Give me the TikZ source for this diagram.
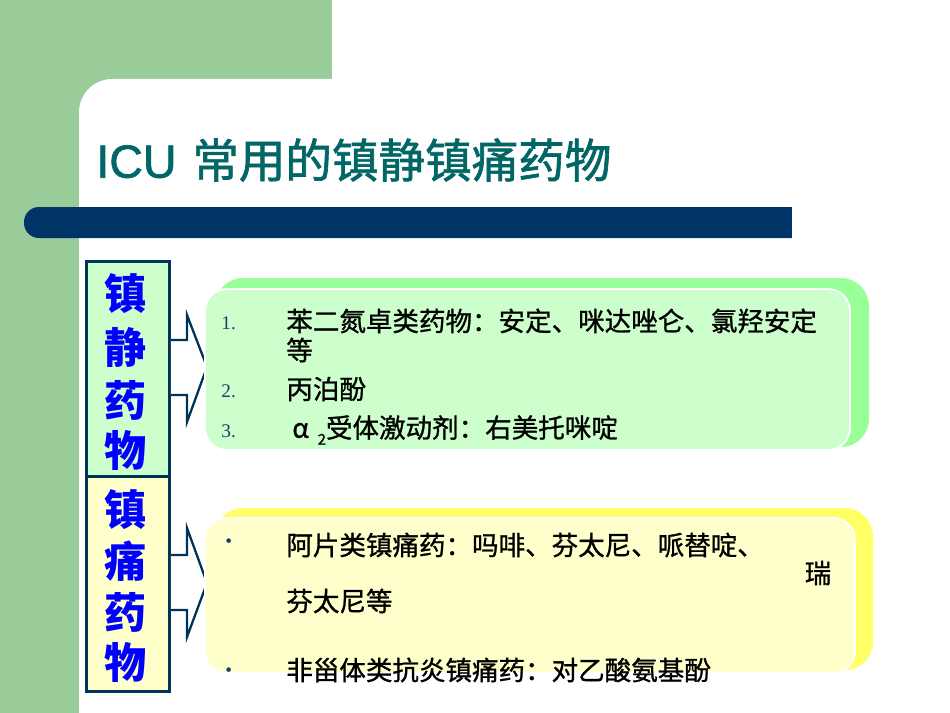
\documentclass[tikz,border=0pt]{standalone}
\usepackage{fontspec}
\newfontfamily\cjk[FakeBold=1.0]{Noto Sans CJK SC}
\newfontfamily\cjkside{Noto Sans CJK SC}
\newfontfamily\cjktitle[FakeBold=1.4]{Noto Sans CJK SC}
\newfontfamily\latinsans[FakeBold=1.4]{Liberation Sans}
\newfontfamily\numfont{Liberation Serif}

\definecolor{bggreen}{RGB}{153,204,153}
\definecolor{barnavy}{RGB}{0,51,102}
\definecolor{titleteal}{RGB}{0,102,102}
\definecolor{panelgreen}{RGB}{204,255,204}
\definecolor{shadegreen}{RGB}{153,255,153}
\definecolor{panelyellow}{RGB}{255,255,204}
\definecolor{shadeyellow}{RGB}{255,255,102}
\definecolor{edgenavy}{RGB}{0,51,85}
\definecolor{numblue}{RGB}{31,61,107}

\tikzset{
  sidechar/.style={text=blue, font=\fontsize{24}{24}\selectfont\cjkside\bfseries, inner sep=0pt},
  itemtext/.style={anchor=west, inner sep=0pt, font=\fontsize{15.1}{15.1}\selectfont\cjk},
  itemnum/.style={anchor=west, inner sep=0pt, text=numblue, font=\fontsize{11}{11}\selectfont\numfont},
  sidebox/.style={draw=edgenavy, line width=1.6pt, minimum width=1.66cm, minimum height=4.3cm, anchor=north west},
  blockarrow/.style={draw=edgenavy, fill=white, line width=1.3pt, line join=miter},
}

\begin{document}
\begin{tikzpicture}[x=0.02cm,y=-0.02cm]
        \useasboundingbox (0,0) rectangle (950,713);

        % background
        \fill[bggreen] (0,0) rectangle (332,200);
        \fill[bggreen] (0,0) rectangle (79,713);
        \fill[white,rounded corners=19pt] (79,800) -- (79,79) -- (1100,79) -- (1100,800) -- cycle;

        \node[anchor=west, inner sep=0pt, text=titleteal] (title) at (96,160)
            { \fontsize{26.5}{26.5}\selectfont\latinsans ICU\hspace{9pt}\cjktitle 常用的镇静镇痛药物 };
        \fill[barnavy, rounded corners=8.5pt] (24,207) rectangle (830,238);
        \fill[white] (792,200) rectangle (840,245);

        % left boxes
        \node[sidebox, fill=panelgreen] (sedbox) at (85,260) {};
        \node[sidebox, fill=panelyellow] (anabox) at (85,475) {};

        \node[sidechar] (s1) at (126,294) {镇};
        \node[sidechar] (s2) at (126,347) {静};
        \node[sidechar] (s3) at (126,400) {药};
        \node[sidechar] (s4) at (126,450) {物};

        \node[sidechar] (a1) at (126,510) {镇};
        \node[sidechar] (a2) at (126,561) {痛};
        \node[sidechar] (a3) at (126,612) {药};
        \node[sidechar] (a4) at (126,662) {物};

        \draw[blockarrow] (sedbox.east |- 0,340) -- (187,340) -- (187,315) -- (207,367)
            -- (187,422) -- (187,395) -- (sedbox.east |- 0,395);
        \draw[blockarrow] (anabox.east |- 0,555) -- (187,555) -- (187,528) -- (207,583)
            -- (187,637) -- (187,610) -- (anabox.east |- 0,610);

        % sedative panel
        \fill[shadegreen, rounded corners=16pt] (215,278) rectangle (869,447);
        \draw[white, fill=panelgreen, line width=1pt, rounded corners=12.5pt] (205,289) rectangle (850,450);

        \node[itemnum] (n1) at (221,323) {1.};
        \node[itemnum] (n2) at (221,391) {2.};
        \node[itemnum] (n3) at (221,431) {3.};

        \node[itemtext] (t1) at (286,321) {苯二氮卓类药物：安定、咪达唑仑、氯羟安定};
        \node[itemtext] (t1b) at (286,350) {等};
        \node[itemtext] (t2) at (286,389) {丙泊酚};
        \node[itemtext] (t3) at (292,430)
            {α\hspace{5pt}\raisebox{-4pt}{\fontsize{8.5}{8.5}\selectfont 2}受体激动剂：右美托咪啶};

        % analgesic panel
        \fill[shadeyellow, rounded corners=16pt] (215,508) rectangle (873,670);
        \draw[white, fill=panelyellow, line width=1pt, rounded corners=12.5pt] (205,518) rectangle (855,673);

        \node[itemnum] (b1) at (225,543) {•};
        \node[itemnum] (b2) at (225,672) {•};

        \node[itemtext] (u1) at (286,545) {阿片类镇痛药：吗啡、芬太尼、哌替啶、};
        \node[itemtext, anchor=center] (u1b) at (818,573) {瑞};
        \node[itemtext] (u1c) at (286,601) {芬太尼等};
        \node[itemtext] (u2) at (286,670) {非甾体类抗炎镇痛药：对乙酸氨基酚};

    \end{tikzpicture}
\end{document}
